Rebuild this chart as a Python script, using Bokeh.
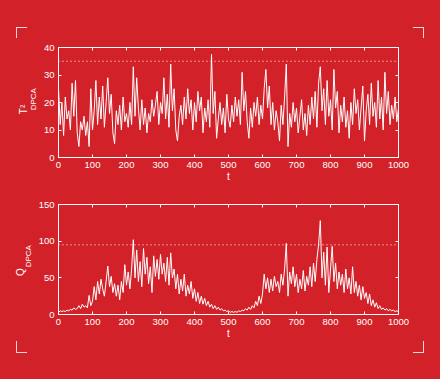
import numpy as np
from bokeh.plotting import figure
from bokeh.layouts import column
from bokeh.models import LinearAxis, FixedTicker, Span, InlineStyleSheet
from bokeh.embed import file_html
from bokeh.resources import INLINE

t_step = 5
T2_values = [
    25, 12, 20, 8, 22, 14, 17, 10, 27, 15, 28, 9, 4, 13, 10, 15, 8, 13, 4, 25,
    10, 17, 28, 12, 22, 14, 26, 11, 20, 29, 16, 23, 9, 5, 17, 12, 19, 10, 22, 13,
    16, 11, 20, 12, 33, 15, 29, 18, 10, 21, 12, 18, 9, 16, 13, 21, 15, 19, 24, 12,
    20, 16, 29, 14, 23, 11, 34, 17, 25, 10, 6, 15, 19, 12, 22, 14, 25, 16, 21, 10,
    20, 13, 24, 17, 22, 9, 18, 13, 21, 11, 37.5, 16, 24, 7, 14, 20, 12, 18, 9, 23,
    14, 11, 19, 13, 22, 15, 21, 12, 31, 17, 24, 13, 7, 18, 11, 20, 15, 22, 12, 19,
    14, 25, 32, 18, 26, 12, 20, 10, 17, 13, 6, 19, 12, 22, 34, 4, 16, 11, 20, 13,
    18, 9, 15, 21, 10, 16, 8, 19, 12, 22, 14, 24, 11, 27, 33, 17, 25, 12, 28, 15,
    21, 10, 32, 18, 24, 9, 19, 13, 22, 11, 17, 7, 20, 12, 25, 16, 21, 10, 18, 26,
    6, 17, 23, 12, 27, 15, 20, 11, 28, 14, 22, 10, 31, 16, 24, 12, 19, 14, 22, 13,
    18,
]
Q_values = [
    3, 5, 4, 5, 4, 6, 5, 7, 6, 9, 7, 8, 12, 8, 14, 10, 12, 9, 26, 12,
    18, 38, 20, 45, 28, 48, 35, 25, 45, 66, 38, 52, 30, 42, 25, 40, 20, 45, 30, 68,
    40, 58, 35, 62, 102, 50, 88, 45, 72, 38, 90, 55, 78, 42, 65, 30, 80, 52, 75, 48,
    82, 55, 70, 45, 78, 40, 84, 50, 62, 35, 55, 28, 48, 32, 55, 25, 40, 28, 45, 22,
    35, 18, 30, 15, 25, 14, 22, 12, 18, 10, 14, 8, 12, 7, 10, 6, 8, 5, 6, 4,
    5, 3, 4, 3, 4, 3, 5, 4, 6, 5, 8, 6, 10, 7, 12, 9, 18, 12, 25, 15,
    28, 55, 35, 50, 30, 48, 32, 52, 38, 45, 30, 55, 40, 62, 97, 25, 58, 42, 65, 38,
    55, 30, 48, 35, 60, 32, 52, 40, 65, 38, 70, 45, 75, 95, 128, 50, 85, 40, 92, 30,
    62, 93, 45, 70, 35, 58, 40, 55, 30, 62, 35, 50, 28, 65, 30, 45, 25, 40, 20, 38,
    22, 30, 15, 28, 12, 20, 10, 16, 8, 12, 7, 9, 6, 8, 5, 7, 5, 6, 4, 5,
    4,
]
T2_limit = 35
Q_limit = 95
x_ticks = [0, 100, 200, 300, 400, 500, 600, 700, 800, 900, 1000]
T2_ticks = [0, 10, 20, 30, 40]
Q_ticks = [0, 50, 100, 150]

t_T2 = np.arange(len(T2_values)) * t_step
t_Q = np.arange(len(Q_values)) * t_step

BG = "#d32129"
FG = "#ffffff"
MARK = "#f6d6d6"
FONT = "Liberation Sans"
NB = "\u00a0"


def style_axis(ax, ticks, show_labels=True):
    ax.ticker = FixedTicker(ticks=ticks)
    ax.axis_line_color = FG
    ax.major_tick_line_color = FG
    ax.major_tick_in = 3
    ax.major_tick_out = 0
    ax.minor_tick_line_color = None
    ax.major_label_text_font = FONT
    if show_labels:
        ax.major_label_text_color = FG
        ax.major_label_standoff = 4
        ax.major_label_text_font_size = "9.5px"
    else:
        ax.major_label_text_color = None
        ax.major_label_standoff = 0
        ax.major_label_text_font_size = "1px"
    ax.axis_label_text_color = FG
    ax.axis_label_text_font = FONT
    ax.axis_label_text_font_style = "normal"
    ax.axis_label_text_font_size = "10px"


def make_fig(height, top, bottom, y_end, yticks, sub_label, main_label, sub_standoff, main_standoff):
    p = figure(width=440, height=height, x_range=(0, 1000), y_range=(0, y_end),
               output_backend="svg", toolbar_location=None,
               min_border_left=58, min_border_right=42,
               min_border_top=top, min_border_bottom=bottom,
               background_fill_color=None, border_fill_color=None,
               outline_line_color=FG, outline_line_width=1)
    p.grid.visible = False
    style_axis(p.xaxis[0], x_ticks)
    style_axis(p.yaxis[0], yticks)
    p.xaxis[0].axis_label = "t"
    p.xaxis[0].axis_label_standoff = 0
    # subscript part of the y label (closest to the axis)
    p.yaxis[0].axis_label = sub_label
    p.yaxis[0].axis_label_text_font_size = "8px"
    p.yaxis[0].axis_label_standoff = sub_standoff
    # main letter of the y label, on a bare extra axis further out
    lab_ax = LinearAxis(ticker=FixedTicker(ticks=[]), axis_line_color=None,
                        major_tick_line_color=None, minor_tick_line_color=None,
                        major_label_text_color=None, major_label_standoff=0,
                        major_label_text_font_size="1px",
                        major_tick_in=0, major_tick_out=0,
                        axis_label=main_label, axis_label_text_color=FG,
                        axis_label_text_font=FONT, axis_label_text_font_style="normal",
                        axis_label_text_font_size="10px",
                        axis_label_standoff=main_standoff)
    p.add_layout(lab_ax, "left")
    top_ax = LinearAxis()
    style_axis(top_ax, x_ticks, show_labels=False)
    p.add_layout(top_ax, "above")
    right_ax = LinearAxis()
    style_axis(right_ax, yticks, show_labels=False)
    p.add_layout(right_ax, "right")
    return p


# ---------------- top panel: T^2 ----------------
p1 = make_fig(190, 47, 33, 40, T2_ticks, NB * 3 + "DPCA", "T²" + NB * 5, 3, -3)
p1.line(t_T2, T2_values, line_color=FG, line_width=1)
p1.add_layout(Span(location=T2_limit, dimension="width", line_color=FG,
                   line_width=1, line_dash="1 3"))

# ---------------- bottom panel: Q ----------------
p2 = make_fig(189, 14, 65, 150, Q_ticks, NB * 3 + "DPCA", "Q" + NB * 9, 3, -5)
p2.line(t_Q, Q_values, line_color=FG, line_width=1)
p2.add_layout(Span(location=Q_limit, dimension="width", line_color=FG,
                   line_width=1, line_dash="1 3"))

# page background with the four white corner brackets
seg = []
for (x, y, w, h) in [(16, 27, 11, 1), (16, 27, 1, 11), (413, 27, 11, 1), (423, 27, 1, 11),
                     (16, 352, 11, 1), (16, 341, 1, 11), (413, 352, 11, 1), (423, 341, 1, 11)]:
    seg.append(f"linear-gradient({MARK},{MARK}) {x}px {y}px / {w}px {h}px no-repeat")
css = ":host { background: " + ", ".join(seg) + ", " + BG + "; }"

layout = column(p1, p2, spacing=0, width=440, height=379,
                stylesheets=[InlineStyleSheet(css=css)])

html = file_html(layout, INLINE)
html = html.replace("<body>", '<body style="background-color:#d32129;">')
open("out.html", "w").write(html)
